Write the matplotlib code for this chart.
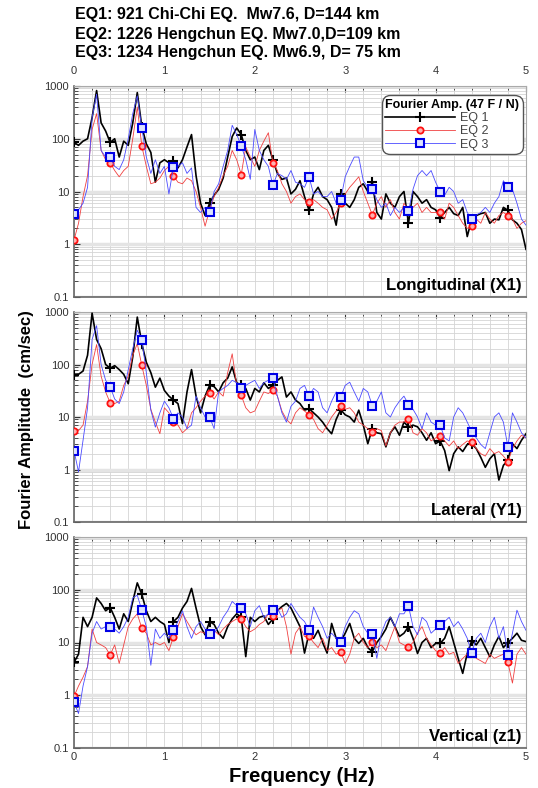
import numpy as np
import matplotlib
matplotlib.use("Agg")
import matplotlib.pyplot as plt
from matplotlib.lines import Line2D
from matplotlib.ticker import FixedLocator, MultipleLocator, NullFormatter

plt.rcParams['font.family'] = ['Liberation Sans', 'DejaVu Sans']

# Fourier amplitude spectra sampled every 0.05 Hz from 0 to 5 Hz
freq = np.arange(101) * 0.05
mark_freq = [0.0, 0.4, 0.75, 1.1, 1.5, 1.85, 2.2, 2.6, 2.95, 3.3, 3.7, 4.05, 4.4, 4.8]

titles = ["EQ1: 921 Chi-Chi EQ.  Mw7.6, D=144 km",
          "EQ2: 1226 Hengchun EQ. Mw7.0,D=109 km",
          "EQ3: 1234 Hengchun EQ. Mw6.9, D= 75 km"]
panel_names = ["Longitudinal (X1)", "Lateral (Y1)", "Vertical (z1)"]
series_names = ["EQ 1", "EQ 2", "EQ 3"]

# Longitudinal (X1)
long_eq1 = [85, 75, 90, 100, 250, 820, 200, 140, 85, 100,
            45, 90, 75, 200, 750, 170, 80, 55, 15, 35,
            40, 35, 38, 28, 40, 70, 120, 20, 6, 3.5,
            6, 8.5, 11, 18, 45, 110, 160, 120, 60, 40,
            45, 26, 60, 75, 40, 22, 17, 18, 9, 11,
            16, 8, 4.4, 9, 12, 8, 7, 5, 2.3, 9,
            6, 5, 7, 12, 14, 10, 15, 4, 3, 9,
            6, 5, 8, 10, 2.5, 10, 8, 6, 7, 5,
            4.5, 3.2, 4, 5, 3.8, 3.5, 5, 1.4, 3, 3.5,
            3.8, 4, 2.5, 3, 2.9, 5, 4.4, 2.9, 2.5, 1.9, 0.8]
long_eq2 = [1.2, 2.5, 8, 20, 150, 300, 60, 40, 35, 25,
            19, 25, 30, 100, 400, 73, 30, 14, 15, 18,
            25, 30, 20, 15, 14, 18, 16, 10, 5, 2.2,
            4.5, 8, 12, 20, 30, 60, 40, 21, 70, 45,
            30, 60, 90, 130, 35, 25, 14, 10, 6, 8,
            9, 7, 6.3, 7, 6, 5, 4.5, 3, 4, 6,
            9, 12, 15, 19, 10, 6, 3.6, 6, 8, 5,
            7, 4, 3, 6, 4.5, 5, 6, 4, 5, 4,
            4, 4, 3, 6, 5, 3.5, 2.5, 2, 2.2, 3,
            2.5, 4, 3, 2.5, 3.5, 4, 3.5, 3, 2, 2.5, 2.8]
long_eq3 = [3.7, 4.5, 6, 12, 250, 700, 60, 45, 45, 30,
            26, 40, 100, 300, 650, 160, 45, 22, 40, 22,
            30, 9, 29, 30, 35, 22, 28, 5, 4, 5,
            4, 10, 14, 30, 60, 180, 120, 74, 40, 17,
            150, 60, 40, 30, 13, 22, 20, 17, 25, 15,
            14, 12, 19, 9, 10, 8, 8, 10, 6, 7,
            19, 30, 45, 45, 16, 12, 11, 7, 5, 6,
            3.5, 5, 4, 5, 4.2, 11, 20, 25, 20, 25,
            15, 10, 8.5, 12, 10, 6, 7, 4, 3, 3.6,
            4, 5, 4, 6, 8, 16, 12, 11, 6, 3, 2.3]

# Lateral (Y1)
lat_eq1 = [62, 65, 75, 150, 950, 300, 200, 100, 85, 95,
           80, 65, 43, 140, 800, 250, 110, 70, 37, 55,
           32, 25, 21, 18, 7.5, 30, 80, 25, 12, 25,
           40, 38, 30, 45, 55, 90, 45, 40, 35, 21,
           35, 30, 45, 35, 40, 50, 58, 24, 30, 21,
           18, 13.5, 14.5, 12, 10, 8, 6, 4.8, 9, 13.8,
           11, 10, 8, 13.5, 7, 3.1, 6, 5, 4.8, 2.7,
           5, 6.5, 4.5, 8, 6.5, 7, 6.5, 5, 3.6, 5,
           3.1, 3.5, 2.3, 0.95, 2, 2.7, 2.2, 3, 3.1, 2.5,
           1.7, 1.1, 1.6, 2, 0.63, 1.2, 1.5, 3.1, 2.5, 3.6, 4.8]
lat_eq2 = [5.4, 5.5, 7, 20, 100, 240, 60, 30, 18.6, 18,
           20, 40, 60, 150, 250, 96, 40, 14, 8, 4.8,
           15, 12, 8, 7, 5, 6, 12, 15, 20, 25,
           29, 22, 30, 25, 70, 160, 40, 26, 15, 12,
           13, 20, 30, 28, 32, 25, 13, 9, 7.4, 12,
           15, 13, 11, 9, 6, 5, 7, 10, 13, 16.4,
           14, 15, 12, 8, 7, 6, 5.2, 6, 5.5, 2.8,
           5, 7, 8, 8, 9.3, 5, 4.5, 6, 5, 3.5,
           4, 4.4, 3.5, 2.8, 3.5, 2.5, 3, 3.5, 3.3, 2.5,
           2, 1.8, 2.5, 2, 2.2, 1.8, 1.4, 2.5, 3.5, 4.5, 4]
lat_eq3 = [2.3, 0.9, 3.6, 15, 300, 550, 100, 50, 38, 22,
           18, 30, 80, 200, 450, 297, 70, 13.5, 6.4, 12,
           20, 15, 9.3, 12, 10, 6, 7, 25, 15, 10,
           10, 6, 30, 35, 40, 50, 45, 35, 40, 45,
           50, 35, 45, 50, 55, 25, 12, 8, 16, 20,
           35, 40, 25, 35, 30, 15, 12, 20, 30, 24,
           40, 46, 30, 20, 35, 30, 16.4, 20, 30, 12,
           10, 15, 20, 25, 17.3, 14, 10, 6, 12, 8,
           7, 7, 4, 3.5, 10, 15, 12, 8, 5.2, 4,
           3, 2.5, 5, 10, 12, 8, 2.7, 12, 8, 5, 4]

# Vertical (z1)
vert_eq1 = [4.2, 6, 30, 20, 30, 70, 55, 40, 46, 30,
            18, 35, 25, 60, 135, 82, 40, 25, 30, 25,
            22, 10, 25, 30, 45, 60, 106, 45, 20, 14,
            25, 22, 15, 12, 20, 28, 35, 30, 5.4, 30,
            25, 30, 32, 22, 28, 40, 48, 55, 45, 30,
            20, 6.3, 15, 12, 17, 10, 6.3, 23, 12, 10.4,
            15, 23, 12, 9.6, 12, 8, 6.7, 10, 13, 18,
            30, 20, 13, 15, 20, 12, 6.2, 10, 12, 8,
            9.6, 9.6, 12, 20, 10, 5, 2.6, 6.2, 10.8, 9,
            12, 8, 5.4, 9, 13, 8, 10, 12, 15, 11, 10.4]
vert_eq2 = [0.95, 1.5, 2.2, 3.5, 18, 10, 9, 8, 5.8, 9,
            4, 9, 20, 28, 35, 18.6, 15, 9, 10, 9,
            10, 7, 12.9, 20, 35, 25, 18, 14, 16, 15,
            15, 17, 14, 18, 22, 25, 28, 28, 20, 16,
            18, 22, 25, 35, 32, 40, 45, 20, 6, 15,
            20, 13, 13, 10, 8, 12, 7, 8, 6, 6.7,
            4, 6, 12, 15, 10, 8, 10.4, 8, 9, 7,
            12, 20, 10, 9, 8.2, 10, 15, 20, 12, 9,
            7, 6.3, 8, 6, 6.5, 4, 5, 6, 6.3, 5,
            4.5, 4, 6, 5, 5.5, 6, 4.2, 1.7, 6, 8, 6]
vert_eq3 = [0.74, 0.45, 1.5, 3.5, 15, 25, 18, 20, 20, 18,
            15, 20, 30, 70, 79, 41, 20, 3.7, 18, 12,
            15, 12, 17, 25, 40, 20, 12, 20, 25, 18,
            14.4, 15, 20, 30, 40, 60, 50, 46, 35, 20,
            40, 50, 30, 35, 41, 45, 30, 35, 55, 40,
            30, 25, 17, 47, 30, 20, 12, 15, 12, 10.4,
            20, 30, 40, 35, 20, 15, 14.5, 5, 15, 25,
            30, 20, 35, 35, 49, 20, 14, 30, 25, 15,
            18, 21.5, 25, 30, 20, 25, 18, 12, 6.4, 12,
            15, 10, 20, 30, 12, 20, 5.8, 15, 41, 25, 17]

panels = [(long_eq1, long_eq2, long_eq3),
          (lat_eq1, lat_eq2, lat_eq3),
          (vert_eq1, vert_eq2, vert_eq3)]

marks = [int(round(m / 0.05)) for m in mark_freq]

styles = [dict(color='black', lw=1.2, marker='+', ms=7, mew=1.5, mec='black', zorder=4),
          dict(color='#f04040', lw=0.6, marker='o', ms=4.5, mew=1.3, mec='#ff1010',
               mfc='#ffb0b0', zorder=5),
          dict(color='#4a4aff', lw=0.6, marker='s', ms=5.5, mew=1.5, mec='#0000e6',
               mfc='#dde2ff', zorder=6)]

fig = plt.figure(figsize=(5.38, 7.88), dpi=100)

left, width = 74 / 538, 452 / 538
boxes = [(86, 297), (312, 522), (537, 748)]

for k, (top, bottom) in enumerate(boxes):
    ax = fig.add_axes([left, 1 - bottom / 788, width, (bottom - top) / 788])
    for vals, st in zip(panels[k], styles):
        ax.plot(freq, vals, markevery=marks, **st)

    ax.set_yscale('log')
    ax.set_ylim(0.1, 1000)
    ax.set_xlim(0, 5)
    ax.yaxis.set_major_locator(FixedLocator([0.1, 1, 10, 100, 1000]))
    ax.yaxis.set_minor_locator(FixedLocator(
        [m * 10.0 ** e for e in range(-1, 3) for m in range(2, 10)]))
    ax.yaxis.set_minor_formatter(NullFormatter())
    ax.set_yticklabels(['0.1', '1', '10', '100', '1000'])
    ax.xaxis.set_major_locator(MultipleLocator(1))
    ax.xaxis.set_minor_locator(MultipleLocator(0.2))

    ax.grid(which='minor', axis='both', color='#d4d4d4', lw=0.6)
    ax.grid(which='major', axis='x', color='#d4d4d4', lw=0.6)
    ax.grid(which='major', axis='y', color='#e4e4e4', lw=2.5)
    ax.set_axisbelow(True)

    ax.tick_params(which='both', direction='in', top=True, bottom=False,
                   left=True, right=False, labelsize=8, colors='#333333')
    ax.tick_params(which='major', length=4)
    ax.tick_params(which='minor', length=3)
    if k == 0:
        ax.tick_params(axis='x', labeltop=True, labelbottom=False, pad=7)
    elif k == 1:
        ax.tick_params(labeltop=False, labelbottom=False)
    else:
        ax.tick_params(axis='x', labeltop=False, labelbottom=True, pad=3)

    for side in ['left', 'bottom']:
        ax.spines[side].set_color('#666666')
        ax.spines[side].set_linewidth(1.2)
    for side in ['top', 'right']:
        ax.spines[side].set_color('#aaaaaa')

    ax.text(0.99, 0.02, panel_names[k], transform=ax.transAxes,
            ha='right', va='bottom', fontsize=12, fontweight='bold')

    if k == 0:
        handles = [Line2D([0], [0], **st) for st in styles]
        leg = ax.legend(handles, series_names, loc='upper right',
                        bbox_to_anchor=(0.995, 0.96), fontsize=9,
                        title='Fourier Amp. (47 F / N)',
                        title_fontproperties={'weight': 'bold', 'size': 9},
                        handlelength=5.6, handletextpad=0.4, labelspacing=0.1,
                        borderpad=0.15, borderaxespad=0.2, numpoints=1,
                        framealpha=1, edgecolor='#555555', fancybox=True)
        leg.get_frame().set_boxstyle('round,pad=0.15,rounding_size=0.7')
        leg._legend_box.align = 'left'
        for t in leg.get_texts():
            t.set_color('#444444')

for i, t in enumerate(titles):
    fig.text(75 / 538, 1 - (15 + 19 * i) / 788, t, fontsize=11.5,
             fontweight='bold', va='center', ha='left')

fig.text(0.05, 1 - 420 / 788, 'Fourier Amplitude  (cm/sec)', rotation=90,
         fontsize=12, fontweight='bold', ha='center', va='center')
fig.text(302 / 538, 1 - 776 / 788, 'Frequency (Hz)', fontsize=14.5,
         fontweight='bold', ha='center', va='center')

fig.savefig('out.png', dpi=100)
